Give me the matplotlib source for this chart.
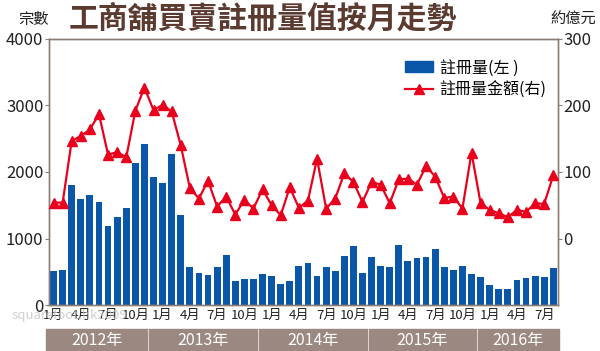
"""工商舖買賣註冊量值按月走勢 - monthly registrations (bars) and value (line)."""
import matplotlib
matplotlib.use("Agg")
import matplotlib.pyplot as plt
import matplotlib.transforms as mtransforms
from matplotlib.patches import Rectangle
from matplotlib.lines import Line2D

plt.rcParams["font.family"] = ["Noto Sans CJK TC", "DejaVu Sans"]

# ---- data: Jan 2012 .. Aug 2016 ----
years = ["2012年", "2013年", "2014年", "2015年", "2016年"]
month_labels = ["1月", "4月", "7月", "10月"]
reg_count = [
    510, 525, 1800, 1600, 1660, 1550, 1190, 1330, 1460, 2130, 2425, 1930,  # 2012
    1830, 2265, 1355, 575, 485, 445, 575, 745, 365, 390, 390, 460,         # 2013
    440, 310, 360, 585, 635, 430, 565, 510, 740, 880, 475, 727,            # 2014
    580, 570, 900, 660, 700, 715, 837, 566, 526, 590, 461, 426,            # 2015
    300, 235, 235, 370, 410, 430, 426, 550,                                # 2016
]
reg_value = [
    54, 54, 147, 154, 164, 187, 126, 130, 122, 192, 227, 193,
    201, 191, 140, 76, 60, 87, 48, 63, 36, 58, 45, 74,
    50, 35, 77, 46, 57, 120, 45, 60, 98, 85, 55, 85,
    81, 53, 89, 90, 81, 109, 93, 61, 63, 45, 129, 53,
    43, 38, 32, 43, 40, 53, 52, 95,
]

BLUE = "#0a56a8"
RED = "#e8001c"
BROWN = "#5b3a30"
FRAME = "#8e7d74"
BAND = "#9b8880"

n = len(reg_count)
x = list(range(n))

fig = plt.figure(figsize=(6.0, 3.51), dpi=100)
ax = fig.add_axes([0.0817, 0.131, 0.848, 0.758])
ax.bar(x, reg_count, width=0.75, color=BLUE, zorder=2)
ax.set_xlim(-0.5, n - 0.5)
ax.set_ylim(0, 4000)
ax.set_yticks([0, 1000, 2000, 3000, 4000])

ax2 = ax.twinx()
ax2.plot(x, reg_value, color=RED, lw=1.6, marker="^", ms=6.5, zorder=3)
ax2.set_ylim(-100, 300)
ax2.set_yticks([0, 100, 200, 300])

for a in (ax, ax2):
    for s in a.spines.values():
        s.set_color(FRAME)
        s.set_linewidth(1.0)
    a.tick_params(axis="y", colors=FRAME, labelcolor="#222222",
                  labelsize=12, length=3, width=0.8, pad=1)

# month tick labels (1/4/7/10) under bars
ticks, labels = [], []
for i in range(n):
    if i % 3 == 0:
        ticks.append(i)
        labels.append(month_labels[(i % 12) // 3])
ax.set_xticks(ticks)
ax.set_xticklabels(labels)
ax.tick_params(axis="x", length=0, labelsize=9.5, pad=3, labelcolor="#222222")

# year bands below the axis
trans = mtransforms.blended_transform_factory(ax.transData, fig.transFigure)
edges = [-0.95, 10.4, 22.5, 34.6, 46.6, 55.7]
for k, yr in enumerate(years):
    x0, x1 = edges[k], edges[k + 1]
    fig.patches.append(Rectangle((x0 + 0.08, 0.0), x1 - x0 - 0.16, 0.062,
                                 transform=trans, color=BAND, zorder=1))
    fig.text((x0 + x1) / 2, 0.029, yr, transform=trans, ha="center",
             va="center", color="white", fontsize=11.5)

# titles and axis captions
fig.text(0.438, 0.948, "工商舖買賣註冊量值按月走勢", ha="center", va="center",
         fontsize=21.5, fontweight="heavy", color=BROWN)
fig.text(0.055, 0.945, "宗數", ha="center", va="center", fontsize=11,
         color="#222222")
fig.text(0.955, 0.945, "約億元", ha="center", va="center", fontsize=11,
         color="#222222")
fig.text(0.02, 0.092, "squarefoot.hk2009", fontsize=9.5, color="#c4c4c4",
         alpha=0.8, zorder=0)

handles = [Rectangle((0, 0), 1, 1, color=BLUE),
           Line2D([], [], color=RED, lw=1.6, marker="^", ms=6.5)]
ax2.legend(handles, ["註冊量(左 )", "註冊量金額(右)"], loc="upper right",
           bbox_to_anchor=(1.0, 0.965), frameon=False, fontsize=11.5,
           handlelength=1.8, handletextpad=0.4, labelspacing=0.3,
           borderaxespad=0.3)

fig.savefig("out.png", dpi=100)
